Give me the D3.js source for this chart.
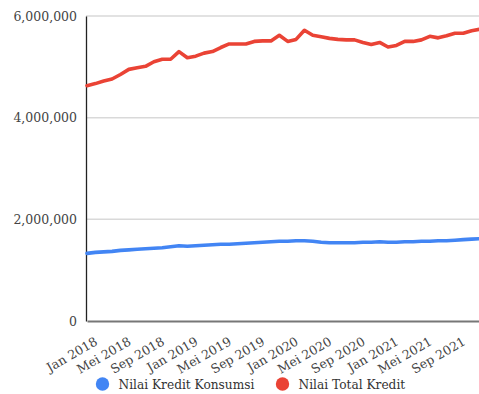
<!DOCTYPE html>
<html>
<head>
<meta charset="utf-8">
<script src="https://cdn.jsdelivr.net/npm/d3@7"></script>
<style>
  body { margin: 0; background: #fff; }
  svg { display: block; font-family: "DejaVu Serif", serif; }
</style>
</head>
<body>
<div id="chart"></div>
<script>
var width = 479;
var height = 394;

// bulan Jan 2018 - Des 2021
var monthNames = ["Jan","Feb","Mar","Apr","Mei","Jun","Jul","Agu","Sep","Okt","Nov","Des"];
var years = [2018, 2019, 2020, 2021];
var months = [];
years.forEach(function(y){ monthNames.forEach(function(m){ months.push(m + " " + y); }); });

var seriesNames = ["Nilai Kredit Konsumsi", "Nilai Total Kredit"];
var seriesColors = ["#4285f4", "#ea4335"];

var kreditKonsumsi = [
  1330000, 1350000, 1360000, 1370000, 1390000, 1400000, 1410000, 1420000, 1430000, 1440000, 1460000, 1480000,
  1470000, 1480000, 1490000, 1500000, 1510000, 1510000, 1520000, 1530000, 1540000, 1550000, 1560000, 1570000,
  1570000, 1580000, 1580000, 1570000, 1550000, 1540000, 1540000, 1540000, 1540000, 1550000, 1550000, 1560000,
  1550000, 1550000, 1560000, 1560000, 1570000, 1570000, 1580000, 1580000, 1590000, 1600000, 1610000, 1620000
];

var totalKredit = [
  4630000, 4670000, 4720000, 4760000, 4850000, 4950000, 4980000, 5010000, 5100000, 5150000, 5150000, 5300000,
  5180000, 5210000, 5270000, 5300000, 5380000, 5450000, 5450000, 5450000, 5500000, 5510000, 5510000, 5620000,
  5500000, 5540000, 5720000, 5620000, 5590000, 5560000, 5540000, 5530000, 5530000, 5480000, 5440000, 5480000,
  5390000, 5420000, 5500000, 5500000, 5530000, 5600000, 5570000, 5610000, 5660000, 5660000, 5710000, 5740000
];

var yTicks = [0, 2000000, 4000000, 6000000];
var xTicks = months.filter(function(d, i){ return i % 4 == 0; });

var margin = {top: 16, right: -1, bottom: 73, left: 86};

var svg = d3.select("#chart")
  .append("svg")
  .attr("width", width)
  .attr("height", height);

var x = d3.scalePoint()
  .domain(months)
  .range([margin.left + 1, width - margin.right]);

var y = d3.scaleLinear()
  .domain([0, 6000000])
  .range([height - margin.bottom, margin.top]);

// gridlines
svg.append("g")
  .selectAll("line")
  .data(yTicks.slice(1))
  .enter().append("line")
  .attr("x1", margin.left)
  .attr("x2", width)
  .attr("y1", d => y(d))
  .attr("y2", d => y(d))
  .style("stroke", "#d9d9d9")
  .style("stroke-width", 1.5);

// y axis
var yAxis = svg.append("g")
  .attr("transform", "translate(" + margin.left + ",0)")
  .call(d3.axisLeft(y).tickValues(yTicks).tickFormat(d3.format(",")).tickSize(0).tickPadding(9));
yAxis.select(".domain").style("stroke", "#222").style("stroke-width", 1.3);
yAxis.selectAll("text")
  .style("font-size", "12.5px")
  .style("fill", "#444")
  .style("font-family", "DejaVu Serif, serif");

// x axis
var xAxis = svg.append("g")
  .attr("transform", "translate(0," + y(0) + ")")
  .call(d3.axisBottom(x).tickValues(xTicks).tickSize(0));
xAxis.select(".domain").style("stroke", "#777").style("stroke-width", 1.8);
xAxis.selectAll("text")
  .style("font-size", "12.5px")
  .style("fill", "#444")
  .style("font-family", "DejaVu Serif, serif")
  .style("text-anchor", "end")
  .attr("y", 0)
  .attr("dy", 0)
  .attr("transform", "translate(11,23) rotate(-30)");

// lines
var line = d3.line()
  .x(function(d, i){ return x(months[i]); })
  .y(function(d){ return y(d); });

[kreditKonsumsi, totalKredit].forEach(function(series, k){
  svg.append("path")
    .datum(series)
    .attr("d", line)
    .style("fill", "none")
    .style("stroke", seriesColors[k])
    .style("stroke-width", 3.6)
    .style("stroke-linejoin", "round")
    .style("stroke-linecap", "round");
});

// legend
var legendX = [102.5, 282.5];
var legend = svg.append("g");
seriesNames.forEach(function(name, k){
  legend.append("circle")
    .attr("cx", legendX[k])
    .attr("cy", 384)
    .attr("r", 6.7)
    .style("fill", seriesColors[k]);
  legend.append("text")
    .attr("x", legendX[k] + 16)
    .attr("y", 388.5)
    .text(name)
    .style("font-size", "12.2px")
    .style("fill", "#333");
});
</script>
</body>
</html>
